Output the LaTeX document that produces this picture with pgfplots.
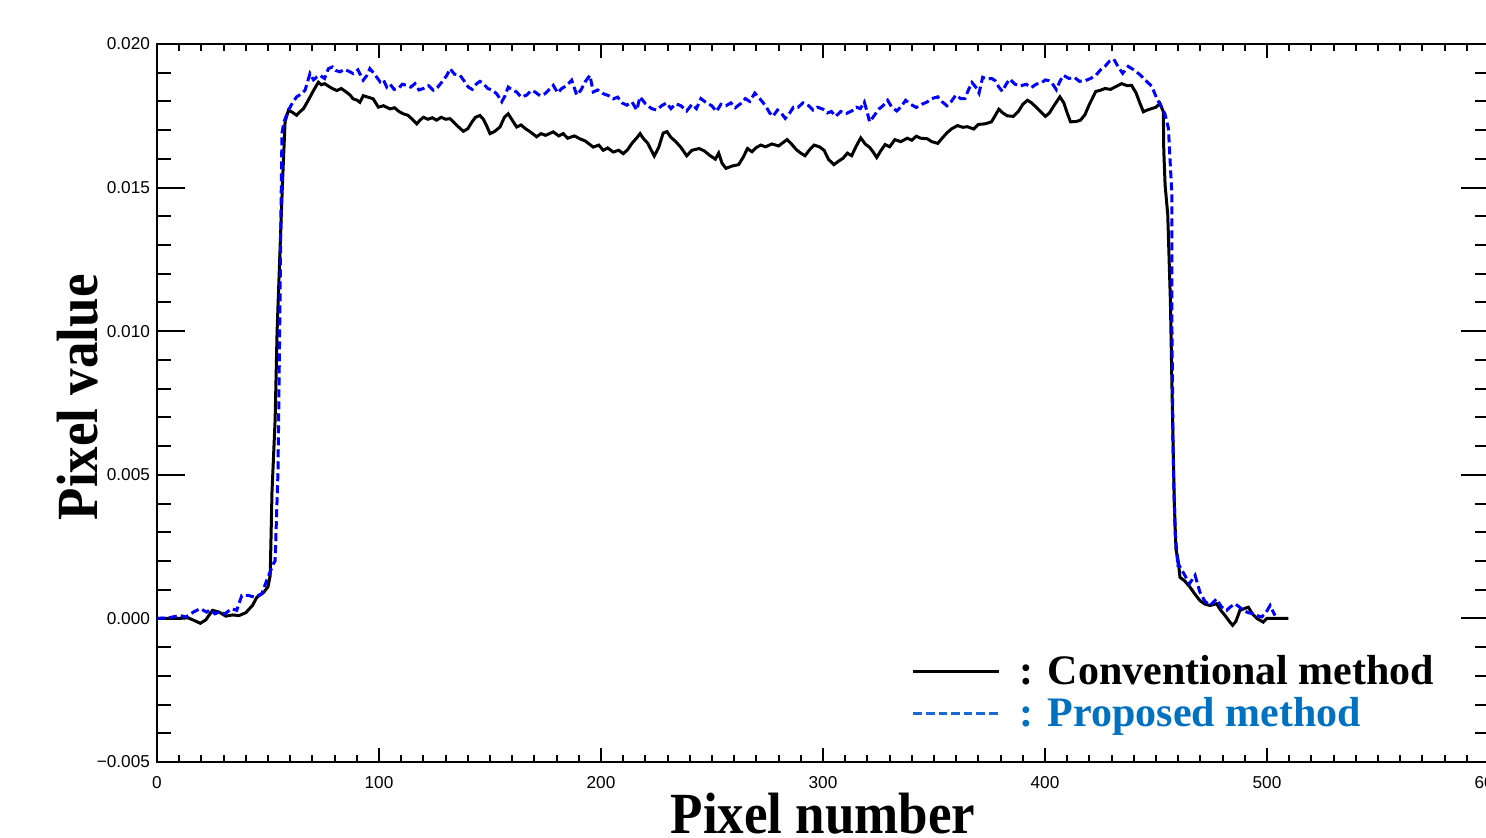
\documentclass[border=0pt]{standalone}
\usepackage{fontspec}
\setmainfont{Liberation Serif}
\newfontfamily\ticksf{Liberation Sans}
\usepackage{graphicx}
\usepackage{pgfplots}
\pgfplotsset{compat=1.18}
\definecolor{propblue}{RGB}{0,112,192}
\definecolor{dashblue}{RGB}{0,0,255}
\definecolor{legblue}{RGB}{25,105,215}

\begin{document}
\begin{tikzpicture}
% main axis: data, y ticks, legend
\begin{axis}[
  at={(0,0)}, anchor=south west,
  scale only axis, width=666pt, height=359pt,
  xmin=0, xmax=600, ymin=-0.005, ymax=0.020,
  xtick=\empty,
  ytick={-0.005,0,0.005,0.010,0.015,0.020},
  yticklabels={−0.005,0.000,0.005,0.010,0.015,0.020},
  minor y tick num=4,
  scaled y ticks=false,
  tick align=inside,
  major tick length=14pt, minor tick length=7.2pt,
  axis line style={line width=1pt},
  every tick/.style={black, line width=1pt},
  yticklabel style={font=\ticksf\fontsize{8.6}{8.6}\selectfont},
  ylabel={\scalebox{1}[1.1]{Pixel value}},
  ylabel style={at={(axis description cs:-0.0445,0.508)}, anchor=base,
    font=\bfseries\fontsize{26.5}{26.5}\selectfont},
  legend style={at={(axis cs:340,-0.00128)}, anchor=north west,
    draw=none, fill=none, inner sep=0pt, outer sep=0pt,
    row sep=5pt, column sep=9pt,
    font=\bfseries\fontsize{21}{21}\selectfont,
    nodes={inner sep=0pt}},
  legend cell align=left,
]
\addplot[black, line width=1.5pt,
  legend image code/.code={\draw[black,line width=1.5pt] (0pt,0pt) -- (43pt,0pt);}]
coordinates {
(0,0) (10,0) (14,0.00002) (17,-0.00008) (19.5,-0.00017) (22,-0.00005) (25,0.00028)
(28,0.00022) (31,0.00008) (34,0.00012) (37,0.0001) (40,0.0002) (43,0.00045)
(45,0.00074) (48,0.0009) (50,0.0011) (51,0.0015) (51.8,0.0044) (53.2,0.0069)
(54.1,0.0100) (55.4,0.0128) (56.6,0.0153) (57.7,0.0173) (59.2,0.01769) (61,0.01762)
(62.9,0.01752) (64.5,0.01765) (65.9,0.01774) (67.5,0.01795) (68.9,0.01815) (70.5,0.01838)
(72.7,0.01867) (74,0.01858) (75.5,0.01862) (77.9,0.0185) (79.5,0.01843) (81,0.01838)
(83,0.01845) (85.4,0.01832) (87,0.01822) (88.3,0.01809) (90,0.01805) (91.4,0.01797)
(92.9,0.0182) (95,0.01815) (97.4,0.01809) (99.7,0.0178) (102,0.01785) (105,0.01774)
(107,0.01778) (109,0.01765) (110.9,0.01757) (113,0.01752) (115,0.01738) (117,0.01722)
(118.5,0.01735) (120,0.01745) (122,0.01738) (124,0.01743) (126,0.01735) (128,0.01745)
(130,0.01738) (132,0.0174) (134,0.01725) (136,0.0171) (138,0.01696) (140,0.01705)
(142,0.0173) (143.5,0.01745) (145.5,0.01751) (147,0.01738) (148.5,0.01715) (150,0.01688)
(152,0.01695) (154.5,0.01711) (156.5,0.01745) (158.2,0.01757) (160,0.01735) (162,0.01711)
(164,0.01718) (166,0.01705) (168,0.01695) (171,0.01677) (173,0.01688) (175,0.01682)
(178.5,0.01694) (181,0.0168) (183,0.01688) (185,0.01672) (188,0.0168) (190.5,0.0167)
(193,0.01662) (196.5,0.01641) (199,0.01648) (201,0.0163) (203,0.01638) (205.5,0.01624)
(208,0.0163) (210,0.01618) (212,0.01632) (214,0.01655) (216,0.01672) (217.6,0.01688)
(219,0.01672) (221,0.01655) (224,0.0161) (226,0.0164) (228,0.0169) (229.7,0.01695)
(231.5,0.01675) (233.7,0.0166) (236,0.0164) (238.6,0.01611) (241,0.0163) (244.2,0.01636)
(246.5,0.01628) (249,0.01612) (251.5,0.01599) (253,0.0162) (254.5,0.01585) (256.3,0.01567)
(259,0.01575) (262,0.0158) (264,0.01605) (266,0.01636) (268,0.01625) (270,0.0164)
(272,0.01648) (274.1,0.01642) (277,0.01652) (280,0.01645) (283.8,0.01667) (286,0.0165)
(288,0.01632) (290,0.0162) (291.9,0.01611) (294,0.01632) (296,0.01648) (298.4,0.01642)
(300.5,0.0163) (302.5,0.01598) (304.9,0.0158) (307,0.01592) (309,0.01602) (311,0.0162)
(312.9,0.01611) (315,0.01645) (317,0.01673) (319,0.01652) (321,0.0164) (322.5,0.01625)
(324.2,0.01605) (326,0.01628) (328,0.0165) (330,0.01642) (332.4,0.01667) (335,0.0166)
(338,0.01672) (340,0.01665) (342,0.01679) (344,0.01672) (347,0.0167) (349,0.0166)
(351.7,0.01654) (354,0.01675) (356,0.01692) (358,0.01705) (360.6,0.01716) (363,0.0171)
(365,0.01712) (367.9,0.01704) (370,0.0172) (373,0.01722) (375.9,0.01729) (377.5,0.0175)
(379.2,0.01773) (381,0.0176) (383,0.0175) (385.7,0.01748) (388,0.01765) (390,0.0179)
(392.1,0.01804) (394,0.01795) (396,0.0178) (398,0.01765) (400.2,0.01748) (402,0.0176)
(404,0.01785) (406.7,0.01816) (408.5,0.01795) (410,0.0176) (411.5,0.01729) (414,0.0173)
(416,0.01735) (418,0.01754) (420,0.0179) (422.9,0.01835) (425,0.01839) (427,0.01845)
(429.5,0.01842) (432,0.01852) (434.5,0.01862) (437,0.01855) (439,0.01856) (441,0.0183)
(442.8,0.01793) (444.3,0.01764) (446,0.0177) (448,0.01775) (450,0.0178) (451.8,0.01793)
(453.3,0.01764) (453.5,0.0163) (454.1,0.01509) (455.3,0.01405) (456.5,0.011) (457.3,0.0076)
(458.2,0.0041) (459,0.0024) (460,0.00201) (460.8,0.00143) (463,0.0013) (465.3,0.00109)
(467.5,0.00085) (469.8,0.00062) (472,0.0005) (474.3,0.00045) (477.3,0.00051) (479,0.0003)
(481.1,0.0001) (483,-0.0001) (484.5,-0.00024) (486,-0.0001) (487.8,0.00028) (490,0.00035)
(491.6,0.00039) (493.5,0.00015) (495.4,0) (498.3,-0.00013) (499.9,0) (509.6,0)
};
\addlegendentry{: Conventional method}
\addplot[dashblue, line width=1.5pt, dash pattern=on 4pt off 2pt,
  legend image code/.code={\draw[legblue,line width=1.5pt,dash pattern=on 4.3pt off 2pt] (0pt,0pt) -- (43.5pt,0pt);}]
coordinates {
(0,0) (5,0.00002) (10.4,0.0001) (13,0.00005) (16.4,0.00022) (19.4,0.00034) (22.4,0.00022)
(24,0.0003) (26.1,0.00016) (28,0.00022) (30.6,0.00016) (33.6,0.00034) (35.9,0.00028)
(38.2,0.0008) (41.1,0.0008) (44.1,0.00074) (47.2,0.00086) (49.4,0.00132) (52.4,0.0019)
(53.2,0.002) (54.5,0.0051) (55,0.0083) (55.4,0.011) (55.9,0.0145) (56.3,0.0169)
(57.2,0.01729) (59.2,0.01769) (61,0.01795) (62.9,0.01816) (64.8,0.01825) (66.7,0.01839)
(68.9,0.01897) (70.5,0.01875) (72,0.01885) (73.4,0.01891) (75.5,0.0188) (77.2,0.01914)
(79,0.0192) (80.5,0.01908) (82.4,0.01903) (84.5,0.01912) (86.9,0.01903) (88.4,0.01897)
(90.5,0.0191) (92.9,0.01874) (94.5,0.0189) (95.9,0.01914) (98,0.01895) (100.5,0.01868)
(102,0.01875) (103.5,0.0185) (105,0.0186) (106.8,0.01842) (108.7,0.01845) (110.5,0.0186)
(112.5,0.01856) (114.3,0.0185) (116.2,0.01862) (118,0.0184) (120,0.01845) (122.3,0.01855)
(124.5,0.01839) (126.5,0.0185) (129,0.01874) (130.5,0.0189) (132,0.01914) (134,0.01895)
(136.5,0.01891) (138.3,0.01872) (140.2,0.0185) (142,0.01842) (144,0.01862) (145.5,0.0187)
(147,0.01862) (149,0.01845) (150.8,0.0184) (153,0.01827) (155.3,0.01799) (156.8,0.0182)
(158.2,0.0185) (160,0.0184) (162,0.01833) (164,0.01815) (166.5,0.01822) (168.5,0.01838)
(170.3,0.01833) (172.5,0.0182) (174.8,0.01827) (176.5,0.0184) (178.5,0.01856) (180.5,0.0183)
(182.3,0.01845) (184.5,0.01855) (186.8,0.01874) (189.1,0.01822) (191,0.0184) (193,0.0187)
(195,0.01891) (196.5,0.01833) (198.5,0.0184) (201,0.01827) (203.5,0.0182) (205.5,0.01809)
(207.5,0.01815) (209.5,0.01795) (211.6,0.01787) (214,0.01798) (216.1,0.0177) (217.6,0.01816)
(220,0.01792) (222.8,0.01775) (225,0.0177) (227.3,0.01785) (229.5,0.01795) (231.5,0.01775)
(233.7,0.01792) (236,0.01785) (238.6,0.01767) (241,0.0179) (243,0.01775) (245,0.0181)
(247.5,0.01795) (249.9,0.01785) (252,0.01765) (254,0.0179) (256.3,0.01785) (258.5,0.01795)
(260.5,0.01778) (262.8,0.01792) (265,0.0181) (267,0.018) (269.3,0.01829) (271.5,0.0181)
(274.1,0.01785) (276,0.0176) (277.4,0.01748) (279.5,0.0177) (281.3,0.01758) (283,0.01741)
(285,0.0176) (286.7,0.0178) (288.7,0.01779) (291,0.01795) (293.6,0.01785) (295.5,0.0177)
(297.5,0.0178) (300,0.01773) (302,0.0176) (303.8,0.01765) (305.7,0.01748) (308,0.01765)
(310.5,0.01758) (313,0.01767) (315,0.0178) (316.8,0.01775) (318.6,0.01798) (320,0.0176)
(321,0.01729) (323,0.0175) (325.1,0.01773) (327,0.01785) (329.1,0.01804) (331,0.0178)
(333.2,0.01767) (335,0.0178) (337.2,0.01804) (339.5,0.0179) (342,0.01779) (344.5,0.0179)
(346.9,0.01798) (349,0.0181) (351.7,0.01816) (353.5,0.018) (355.8,0.01785) (357.8,0.018)
(359.8,0.01822) (362,0.0181) (363.9,0.0181) (365.5,0.0184) (367.1,0.01866) (368.8,0.0185)
(370.3,0.01829) (371.9,0.01884) (374,0.01878) (376,0.0188) (377.6,0.01872) (379.2,0.0185)
(380.8,0.01835) (382.5,0.0186) (384.1,0.01878) (386.5,0.0186) (388.9,0.01854) (391.5,0.0186)
(393.8,0.01848) (396,0.0186) (398.6,0.01866) (400.2,0.01875) (401.8,0.01872) (403.5,0.0186)
(405.1,0.01841) (406.7,0.0187) (408.3,0.01891) (410.8,0.0188) (413.2,0.01884) (415.5,0.0187)
(418,0.01872) (420.5,0.0188) (422.9,0.01891) (425,0.0191) (427,0.01922) (429,0.0194)
(431,0.01947) (433,0.0192) (435,0.01898) (437.5,0.01922) (440,0.0191) (443.1,0.01891)
(446,0.01868) (448,0.01854) (450.4,0.0181) (452.5,0.0178) (454,0.01757) (455.6,0.01706)
(456.3,0.016) (457.1,0.01486) (457.2,0.0100) (457.7,0.0058) (458.6,0.003) (459.9,0.0018)
(460,0.0019) (463,0.0015) (465,0.0012) (467.6,0.0015) (469.8,0.00091) (472,0.0006)
(474.3,0.00045) (477.3,0.00068) (479.5,0.0004) (481.8,0.00028) (483.5,0.0004) (485.6,0.00051)
(487.5,0.0004) (489.3,0.00028) (491.5,0.0002) (493.8,0.00016) (495.5,0.0001) (497.6,0.00005)
(499.5,0.0002) (501.4,0.00045) (503.6,0.0001)
};
\addlegendentry{\textcolor{propblue}{: Proposed method}}
\end{axis}
% second axis on the same frame: x ticks (shorter) and x label
\begin{axis}[
  at={(0,0)}, anchor=south west,
  scale only axis, width=666pt, height=359pt,
  xmin=0, xmax=600, ymin=-0.005, ymax=0.020,
  hide y axis,
  xtick={0,100,200,300,400,500,600},
  minor x tick num=9,
  tick align=inside,
  major tick length=7pt, minor tick length=3.5pt,
  axis line style={line width=1pt},
  every tick/.style={black, line width=1pt},
  /pgf/number format/assume math mode=true,
  xticklabel style={font=\ticksf\fontsize{8.6}{8.6}\selectfont, yshift=-3.5pt},
  xlabel={\scalebox{1}[1.1]{Pixel number}},
  xlabel style={at={(axis description cs:0.5,0)}, anchor=north, yshift=-15.5pt,
    inner sep=0pt, font=\bfseries\fontsize{26.5}{26.5}\selectfont},
]
\end{axis}
\pgfresetboundingbox
\path[use as bounding box] (-78.5pt,-37.5pt) rectangle (664.5pt,381pt);
\end{tikzpicture}
\end{document}
